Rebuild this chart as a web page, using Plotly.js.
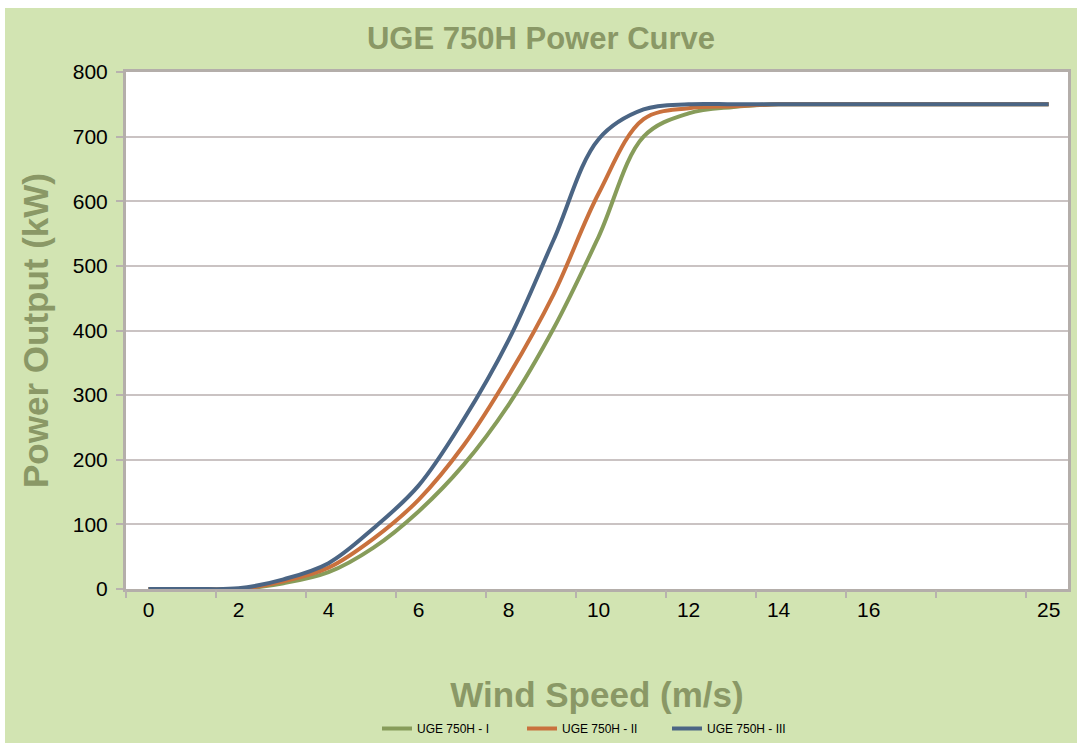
<!DOCTYPE html>
<html>
<head>
<meta charset="utf-8">
<script src="https://cdn.plot.ly/plotly-3.0.1.min.js"></script>
<style>
  html, body { margin: 0; padding: 0; background: #ffffff; }
  #chart { position: absolute; left: 5px; top: 8px; width: 1072px; height: 735px; }
</style>
</head>
<body>
<div id="chart"></div>
<script>
// Wind speed categories (m/s)
const windSpeed = [0,1,2,3,4,5,6,7,8,9,10,11,12,13,14,15,16,17,18,19,25];
// Power output (kW) per model
const powerI   = [0,0,0,9,26,64,120,192,285,403,545,700,736,746,750,750,750,750,750,750,750];
const powerII  = [0,0,0,12,33,78,138,222,330,456,612,727,744,747,750,750,750,750,750,750,750];
const powerIII = [0,0,1,15,40,94,160,262,385,540,696,742,750,750,750,750,750,750,750,750,750];
const seriesNames = ['UGE 750H - I', 'UGE 750H - II', 'UGE 750H - III'];
// Tick labels shown every second category
const tickLabels = ['0','2','4','6','8','10','12','14','16','','25'];

const catIndex = windSpeed.map((s, i) => i);
const labelPos = tickLabels.map((t, i) => i * 2);
const tickPos = tickLabels.map((t, i) => i * 2 - 0.5);

const colors = ['#879c5a', '#c9713d', '#4b6584'];
const series = [powerI, powerII, powerIII];

const traces = series.map((ys, k) => ({
  type: 'scatter',
  mode: 'lines',
  x: catIndex,
  y: ys,
  name: seriesNames[k],
  line: { color: colors[k], width: 4, shape: 'spline', smoothing: 1.0 },
  hoverinfo: 'x+y'
}));
// empty helper trace so the tick-mark axis (category boundaries) is drawn
traces.push({ type: 'scatter', mode: 'lines', x: [], y: [], xaxis: 'x2', yaxis: 'y', showlegend: false, hoverinfo: 'skip' });

const font = 'Arial, Liberation Sans, sans-serif';
const titleColor = '#8a9866';
const xRange = [-0.5, 20.43];
const layout = {
  width: 1072,
  height: 735,
  paper_bgcolor: '#d2e4b2',
  plot_bgcolor: '#ffffff',
  margin: { l: 121, r: 9, t: 64, b: 154 },
  title: {
    text: 'UGE 750H Power Curve',
    font: { family: font, size: 31, color: titleColor, weight: 'bold' },
    x: 0.5, xanchor: 'center',
    y: 1 - 30 / 735, yanchor: 'middle'
  },
  xaxis: {
    type: 'linear',
    range: xRange,
    tickmode: 'array',
    tickvals: labelPos,
    ticktext: tickLabels,
    ticks: '',
    showgrid: false,
    zeroline: false,
    showline: true,
    mirror: true,
    linecolor: '#b4aeaa',
    linewidth: 3,
    tickfont: { family: font, size: 21, color: '#000000' },
    ticklabelstandoff: 0,
    title: {
      text: 'Wind Speed (m/s)',
      font: { family: font, size: 35, color: titleColor, weight: 'bold' },
      standoff: 74
    },
    automargin: false
  },
  xaxis2: {
    type: 'linear',
    overlaying: 'x',
    anchor: 'y',
    side: 'bottom',
    range: xRange,
    tickmode: 'array',
    tickvals: tickPos,
    showticklabels: false,
    ticks: 'outside',
    ticklen: 8,
    tickwidth: 2,
    tickcolor: '#b8b2ae',
    showgrid: false,
    zeroline: false,
    showline: false,
    automargin: false
  },
  yaxis: {
    range: [0, 800],
    dtick: 100,
    tick0: 0,
    ticks: 'outside',
    ticklen: 7,
    tickwidth: 2,
    tickcolor: '#b8b2ae',
    showgrid: true,
    gridcolor: '#cac3c3',
    gridwidth: 2,
    zeroline: false,
    showline: true,
    mirror: true,
    linecolor: '#b4aeaa',
    linewidth: 3,
    tickfont: { family: font, size: 21, color: '#000000' },
    ticklabelstandoff: 4,
    title: {
      text: 'Power Output (kW)',
      font: { family: font, size: 35, color: titleColor, weight: 'bold' },
      standoff: 14
    },
    automargin: false
  },
  showlegend: true,
  legend: {
    orientation: 'h',
    xref: 'container', yref: 'container',
    x: (377 - 5) / 1072, xanchor: 'left',
    y: 0, yanchor: 'bottom',
    bgcolor: 'rgba(0,0,0,0)',
    font: { family: font, size: 12, color: '#000000' },
    entrywidth: 100,
    entrywidthmode: 'pixels',
    itemwidth: 30,
    traceorder: 'normal'
  }
};

Plotly.newPlot('chart', traces, layout, { displayModeBar: false, staticPlot: true });
</script>
</body>
</html>
